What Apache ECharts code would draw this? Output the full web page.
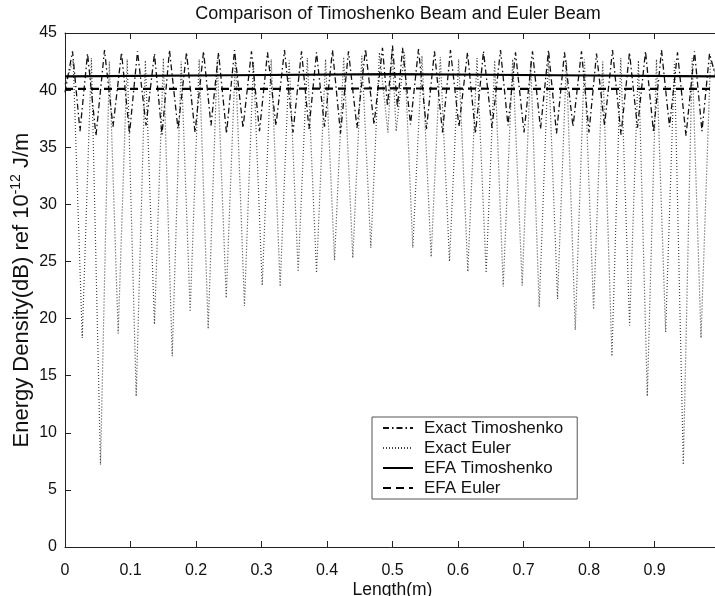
<!DOCTYPE html>
<html>
<head>
<meta charset="utf-8">
<script src="https://cdn.jsdelivr.net/npm/echarts@6/dist/echarts.min.js"></script>
<style>
  html, body { margin: 0; padding: 0; background: #fff; }
  #chart { width: 715px; height: 596px; }
</style>
</head>
<body>
<div id="chart"></div>
<script>
// Axis ticks
const xTicks = [0, 0.1, 0.2, 0.3, 0.4, 0.5, 0.6, 0.7, 0.8, 0.9, 1];
const yTicks = [0, 5, 10, 15, 20, 25, 30, 35, 40, 45];

// Exact Timoshenko: local maxima and minima along the beam
const timoPeakX = [0.0115, 0.0344, 0.0603, 0.0863, 0.1107, 0.1366, 0.1595, 0.1855, 0.2115, 0.2344,
  0.2588, 0.2847, 0.3092, 0.3351, 0.3611, 0.3840, 0.4084, 0.4328, 0.4588, 0.4847,
  0.5000, 0.5153, 0.5397, 0.5641, 0.5885, 0.6145, 0.6389, 0.6649, 0.6878, 0.7137,
  0.7382, 0.7626, 0.7885, 0.8115, 0.8359, 0.8618, 0.8863, 0.9107, 0.9351, 0.9611, 0.9840];
const timoPeakY = [43.4, 43.2, 43.5, 43.3, 43.4, 43.2, 43.5, 43.3, 43.4, 43.3,
  43.5, 43.4, 43.3, 43.5, 43.4, 43.3, 43.5, 43.4, 43.6, 43.7,
  43.9, 43.7, 43.6, 43.4, 43.5, 43.3, 43.4, 43.5, 43.3, 43.4,
  43.5, 43.3, 43.4, 43.2, 43.5, 43.3, 43.4, 43.5, 43.3, 43.4, 43.2];
const timoDipX = [0, 0.0229, 0.0473, 0.0733, 0.0985, 0.1237, 0.1481, 0.1725, 0.1985, 0.2229, 0.2466,
  0.2718, 0.2969, 0.3221, 0.3481, 0.3725, 0.3962, 0.4206, 0.4458, 0.4718, 0.4924,
  0.5076, 0.5275, 0.5519, 0.5763, 0.6015, 0.6267, 0.6519, 0.6763, 0.7008, 0.7260,
  0.7504, 0.7756, 0.8000, 0.8237, 0.8489, 0.8740, 0.8985, 0.9229, 0.9481, 0.9725, 1];
const timoDipY = [39.8, 36.4, 36.0, 36.8, 36.2, 36.9, 36.1, 36.6, 36.3, 36.9, 36.2,
  36.7, 36.4, 36.9, 36.3, 36.6, 36.8, 36.2, 36.7, 37.0, 38.6,
  38.5, 37.0, 36.6, 36.3, 36.8, 36.2, 36.7, 36.9, 36.3, 36.6,
  36.2, 36.8, 36.3, 36.9, 36.1, 36.7, 36.3, 36.8, 36.0, 36.4, 39.8];

// Exact Euler: local maxima and minima along the beam
const eulerPeakX = [0.0125, 0.0403, 0.0677, 0.0950, 0.1227, 0.1502, 0.1774, 0.2049, 0.2324, 0.2601,
  0.2876, 0.3148, 0.3423, 0.3700, 0.3978, 0.4255, 0.4532, 0.4800, 0.4993, 0.5183,
  0.5450, 0.5730, 0.6010, 0.6290, 0.6560, 0.6835, 0.7110, 0.7380, 0.7655, 0.7930,
  0.8210, 0.8485, 0.8755, 0.9030, 0.9305, 0.9575, 0.9855];
const eulerPeakY = [42.6, 42.8, 42.5, 42.7, 42.6, 42.8, 42.5, 42.7, 42.6, 42.8,
  42.5, 42.7, 42.6, 42.8, 42.7, 42.9, 43.0, 43.3, 43.5, 43.3,
  43.0, 42.9, 42.7, 42.8, 42.6, 42.7, 42.5, 42.8, 42.6, 42.7,
  42.5, 42.8, 42.6, 42.7, 42.5, 42.8, 42.6];
const eulerDipX = [0, 0.0263, 0.0542, 0.0812, 0.1087, 0.1366, 0.1637, 0.1911, 0.2186, 0.2461, 0.2740,
  0.3011, 0.3285, 0.3560, 0.3840, 0.4115, 0.4394, 0.4669, 0.4930, 0.5056,
  0.5310, 0.5590, 0.5870, 0.6150, 0.6430, 0.6690, 0.6980, 0.7240, 0.7520, 0.7790,
  0.8070, 0.8350, 0.8620, 0.8890, 0.9170, 0.9440, 0.9710, 1];
const eulerDipY = [40.5, 18.3, 7.2, 18.7, 13.2, 19.5, 16.7, 20.6, 19.1, 21.8, 21.1,
  22.9, 22.8, 24.1, 24.0, 25.1, 25.3, 26.2, 36.3, 36.4,
  26.2, 25.4, 25.0, 24.1, 24.0, 22.8, 22.9, 21.0, 21.7, 19.0,
  20.8, 16.7, 19.4, 13.2, 18.8, 7.2, 18.3, 40.5];

// Energy flow analysis results (nearly flat)
const efaX = [0, 0.25, 0.5, 0.75, 1];
const efaTimoY = [41.2, 41.3, 41.4, 41.3, 41.2];
const efaEulerY = [40.1, 40.1, 40.15, 40.1, 40.1];

// Merge extrema of one curve into ordered [x, y] pairs
function merge(ax, ay, bx, by) {
  const pts = [];
  ax.forEach((x, i) => pts.push([x, ay[i]]));
  bx.forEach((x, i) => pts.push([x, by[i]]));
  pts.sort((p, q) => p[0] - q[0]);
  return pts;
}
const zip = (xs, ys) => xs.map((x, i) => [x, ys[i]]);

const FONT = 'Liberation Sans, Arial, sans-serif';
const chart = echarts.init(document.getElementById('chart'), null, { renderer: 'canvas' });

const axisCommon = {
  axisLine: { show: true, onZero: false, lineStyle: { color: '#222', width: 1 } },
  axisTick: { show: true, inside: true, length: 6, lineStyle: { color: '#222' } },
  splitLine: { show: false }
};

chart.setOption({
  animation: false,
  backgroundColor: '#fff',
  title: {
    text: 'Comparison of Timoshenko Beam and Euler Beam',
    left: 393, top: 0, textAlign: 'center',
    textStyle: { fontFamily: FONT, fontSize: 18, fontWeight: 'normal', color: '#111' }
  },
  grid: { left: 65, right: -5, top: 33, bottom: 49, outerBoundsMode: 'none', containLabel: false },
  legend: {
    orient: 'vertical',
    left: 372, top: 417,
    padding: [1, 14, 1, 10],
    itemGap: 0,
    itemWidth: 30, itemHeight: 20,
    backgroundColor: '#fff',
    borderColor: '#555', borderWidth: 1,
    itemStyle: { opacity: 0 },
    textStyle: { fontFamily: FONT, fontSize: 17, color: '#111', lineHeight: 20, padding: [0, 0, 0, 6] },
    data: ['Exact Timoshenko', 'Exact Euler', 'EFA Timoshenko', 'EFA Euler']
  },
  xAxis: [
    Object.assign({}, axisCommon, {
      type: 'value', position: 'bottom', min: 0, max: 1, interval: 0.1,
      name: 'Length(m)', nameLocation: 'middle', nameGap: 34, nameMoveOverlap: false,
      nameTextStyle: { fontFamily: FONT, fontSize: 17.5, color: '#111', verticalAlign: 'top' },
      axisLabel: {
        fontFamily: FONT, fontSize: 16, color: '#111', margin: 16,
        formatter: v => (v >= 1 ? '' : String(Math.round(v * 10) / 10))
      }
    }),
    Object.assign({}, axisCommon, {
      type: 'value', position: 'top', min: 0, max: 1, interval: 0.1,
      axisLabel: { show: false }
    })
  ],
  yAxis: [
    Object.assign({}, axisCommon, {
      type: 'value', min: 0, max: 45, interval: 5,
      name: '{a|Energy Density(dB) ref 10}{s|-12}{a| J/m}',
      nameLocation: 'middle', nameGap: 31, nameRotate: 90, nameMoveOverlap: false,
      nameTextStyle: {
        rich: {
          a: { fontFamily: FONT, fontSize: 22, color: '#111' },
          s: { fontFamily: FONT, fontSize: 14, color: '#111', padding: [0, 0, 11, 0] }
        }
      },
      axisLabel: { fontFamily: FONT, fontSize: 16, color: '#111', margin: 8 }
    })
  ],
  series: [
    {
      name: 'Exact Euler', type: 'line', symbol: 'none', z: 2,
      data: merge(eulerPeakX, eulerPeakY, eulerDipX, eulerDipY),
      lineStyle: { color: '#444', width: 1.2, type: [1, 2] },
      itemStyle: { color: '#444' }
    },
    {
      name: 'Exact Timoshenko', type: 'line', symbol: 'none', z: 3,
      data: merge(timoPeakX, timoPeakY, timoDipX, timoDipY),
      lineStyle: { color: '#111', width: 1.3, type: [6, 3, 1.5, 3] },
      itemStyle: { color: '#111' }
    },
    {
      name: 'EFA Timoshenko', type: 'line', symbol: 'none', z: 4,
      data: zip(efaX, efaTimoY),
      lineStyle: { color: '#000', width: 2.2, type: 'solid' },
      itemStyle: { color: '#000' }
    },
    {
      name: 'EFA Euler', type: 'line', symbol: 'none', z: 4,
      data: zip(efaX, efaEulerY),
      lineStyle: { color: '#000', width: 2.2, type: [8, 5] },
      itemStyle: { color: '#000' }
    }
  ]
});
</script>
</body>
</html>
